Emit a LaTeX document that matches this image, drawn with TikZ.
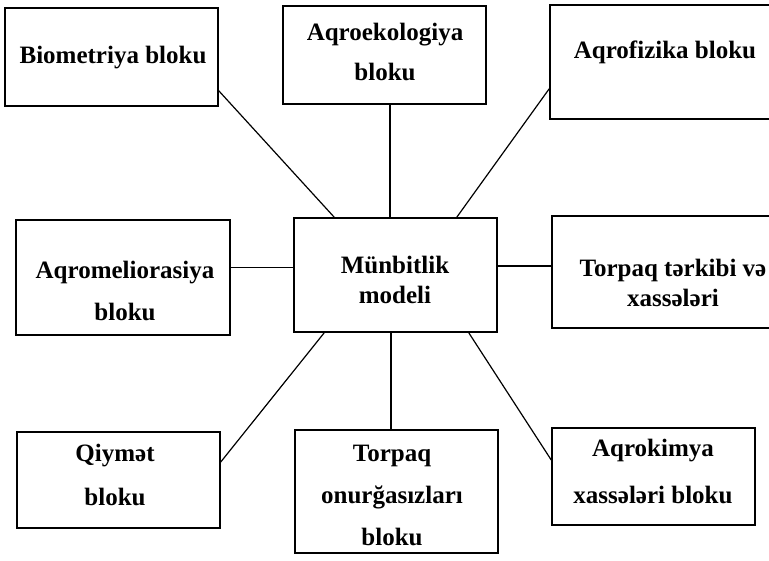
\documentclass[tikz,border=0pt]{standalone}
\usepackage{fontspec}
\setmainfont{Liberation Serif}
\begin{document}
\begin{tikzpicture}[x=1pt,y=-1pt,
  box/.style={draw, line width=1.5pt, inner sep=0pt, rectangle},
  txt/.style={font=\bfseries\fontsize{25}{42}\selectfont, align=center, inner sep=0pt},
  link/.style={line width=1.2pt}]
\clip (0,0) rectangle (769,561);
\fill[white] (0,0) rectangle (769,561);
% boxes
\node[box, minimum width=213pt, minimum height=98pt]  (bio) at (111.5,57) {};
\node[box, minimum width=203pt, minimum height=98pt]  (eco) at (384.5,55) {};
\node[box, minimum width=240pt, minimum height=114pt] (fiz) at (670,62) {};
\node[box, minimum width=214pt, minimum height=115pt] (mel) at (123,277.5) {};
\node[box, minimum width=203pt, minimum height=114pt] (cen) at (395.5,275) {};
\node[box, minimum width=238pt, minimum height=112pt] (ter) at (671,272) {};
\node[box, minimum width=203pt, minimum height=96pt]  (qiy) at (118.5,480) {};
\node[box, minimum width=203pt, minimum height=123pt] (onu) at (396.5,491.5) {};
\node[box, minimum width=203pt, minimum height=97pt]  (kim) at (653.5,476.5) {};
% texts
\node[txt] (bioT) at (113,58) {Biometriya bloku};
\node[txt, font=\bfseries\fontsize{25}{40}\selectfont] (ecoT) at (385,52) {Aqroekologiya\\bloku};
\node[txt] (fizT) at (665,52) {Aqrofizika bloku};
\node[txt, font=\bfseries\fontsize{25}{42}\selectfont] (melT) at (125,291) {Aqromeliorasiya\\bloku};
\node[txt, font=\bfseries\fontsize{25}{30}\selectfont] (cenT) at (395,280) {Münbitlik\\modeli};
\node[txt, font=\bfseries\fontsize{25}{30}\selectfont] (terT) at (673,283) {Torpaq tərkibi və\\xassələri};
\node[txt, font=\bfseries\fontsize{25}{44}\selectfont] (qiyT) at (115,475) {Qiymət\\bloku};
\node[txt, font=\bfseries\fontsize{25}{42}\selectfont] (onuT) at (392,495) {Torpaq\\onurğasızları\\bloku};
\node[txt, font=\bfseries\fontsize{25}{47}\selectfont] (kimT) at (653,471) {Aqrokimya\\xassələri bloku};
% connectors
\draw[link] ([yshift=16pt]bio.south east) -- ([xshift=41pt]cen.north west);
\draw[link] ([xshift=5.5pt]eco.south) -- ([xshift=5.5pt]eco.south |- cen.north);
\draw[link] ([yshift=31pt]fiz.south west) -- ([xshift=-41pt]cen.north east);
\draw[link] ([yshift=10pt]mel.east) -- ([yshift=10pt]mel.east -| cen.west);
\draw[link] ([yshift=9pt]cen.east) -- ([yshift=9pt]cen.east -| ter.west);
\draw[link] ([yshift=18pt]qiy.east) -- ([xshift=31pt]cen.south west);
\draw[link] ([xshift=-5.5pt]onu.north) -- ([xshift=-5.5pt]onu.north |- cen.south);
\draw[link] ([yshift=16.5pt]kim.west) -- ([xshift=-29pt]cen.south east);
\end{tikzpicture}
\end{document}
